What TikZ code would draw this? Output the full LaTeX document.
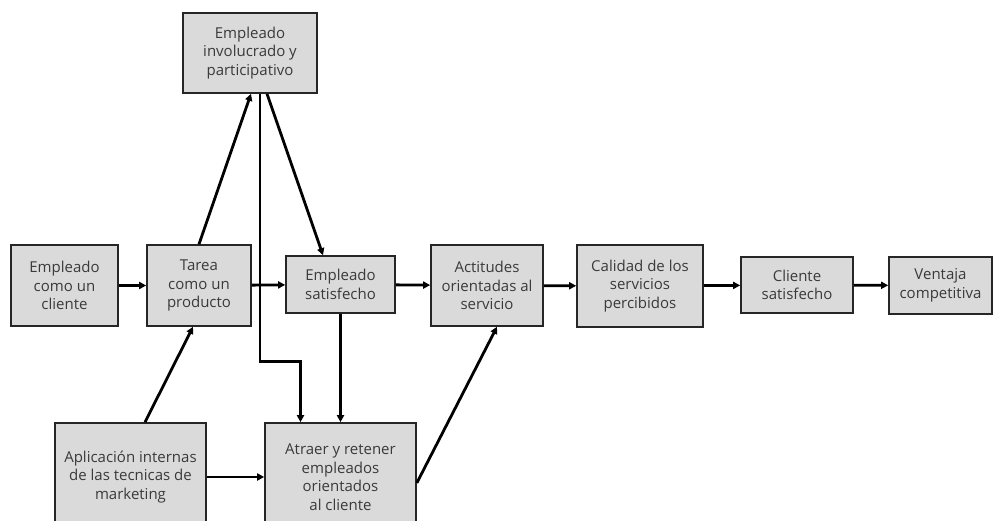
\documentclass[tikz,border=0pt]{standalone}
\usepackage{fontspec}
\setmainfont{Open Sans}
\usetikzlibrary{arrows.meta,calc}
\definecolor{boxfill}{HTML}{DADADA}
\definecolor{boxtext}{HTML}{3A3A3A}
\tikzset{
  box/.style={draw=black!85, line width=1.6pt, fill=boxfill, text=boxtext,
    align=center, inner sep=0pt, font=\fontsize{15}{18.5}\selectfont},
  arr/.style={line width=2.8pt, -{Triangle[length=7pt,width=7pt]}},
}
\begin{document}
\begin{tikzpicture}[x=1pt,y=-1pt]
\useasboundingbox (0,0) rectangle (994,521);
\clip (0,0) rectangle (994,521);
% boxes
\node[box, minimum width=134pt, minimum height=80pt] (inv) at (250,53)
  {Empleado\\involucrado y\\participativo};
\node[box, minimum width=107pt, minimum height=81pt] (cli) at (64.5,285.5)
  {Empleado\\como un\\cliente};
\node[box, minimum width=104pt, minimum height=81pt] (tarea) at (199,285.5)
  {Tarea\\como un\\producto};
\node[box, minimum width=109pt, minimum height=57pt] (sat) at (340.5,284.5)
  {Empleado\\satisfecho};
\node[box, minimum width=112pt, minimum height=81pt] (act) at (487,285.5)
  {Actitudes\\orientadas al\\servicio};
\node[box, minimum width=126pt, minimum height=82pt] (cal) at (640,286)
  {Calidad de los\\servicios\\percibidos};
\node[box, minimum width=112pt, minimum height=56pt] (clis) at (797,285)
  {Cliente\\satisfecho};
\node[box, minimum width=103pt, minimum height=57pt] (ven) at (940.5,285.5)
  {Ventaja\\competitiva};
\node[box, minimum width=151pt, minimum height=108pt] (apl) at (130.5,477)
  {Aplicación internas\\de las tecnicas de\\marketing};
\node[box, minimum width=151pt, minimum height=108pt] (atr) at (340.5,477)
  {Atraer y retener\\empleados\\orientados\\al cliente};
% main chain
\draw[arr] (cli) -- (tarea);
\draw[arr] (tarea) -- (sat);
\draw[arr] (sat) -- (act);
\draw[arr] (act) -- (cal);
\draw[arr] (cal) -- (clis);
\draw[arr] (clis) -- (ven);
% links around the involved employee
\draw[arr] (tarea.north) -- ($(inv.south)+(1,0)$);
\draw[arr] ($(inv.south)+(10,0)$) -- ++(0,268) -| ($(atr.north)+(-40,0)$);
\draw[arr] ($(inv.south)+(17,0)$) -- ($(sat.north)+(-17.5,0)$);
\draw[arr] (sat.south) -- (atr.north);
% lower links
\draw[arr] ($(apl.north)+(14.5,0)$) -- ($(tarea.south)+(-6,0)$);
\draw[arr] (apl) -- (atr);
\draw[arr] ($(atr.east)+(0,6)$) -- ($(act.south)+(10,0)$);
\end{tikzpicture}
\end{document}
